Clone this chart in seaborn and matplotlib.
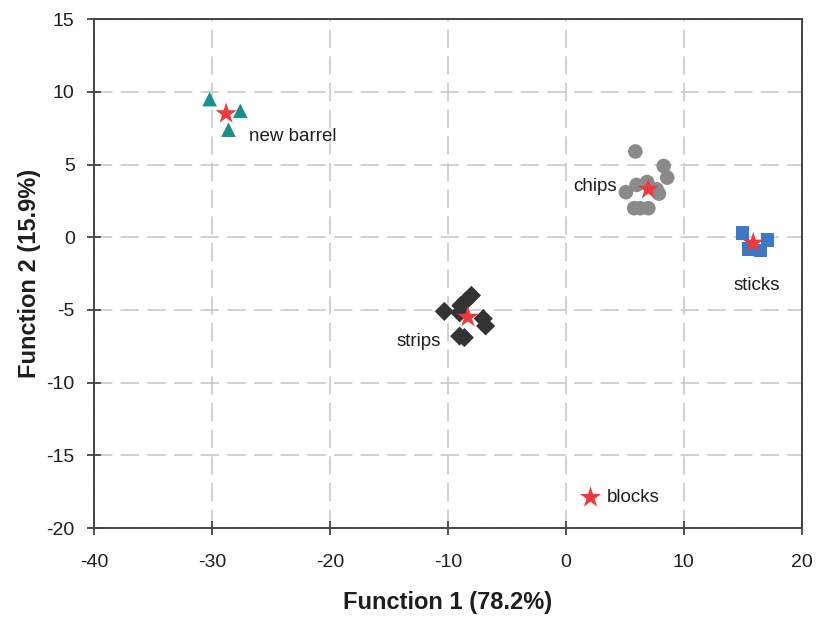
import numpy as np
import pandas as pd
import matplotlib
matplotlib.use('Agg')
import matplotlib.pyplot as plt
import seaborn as sns

# Dados (funções discriminantes)
barrel_x = [-30.2, -27.6, -28.6]
barrel_y = [9.5, 8.7, 7.4]
chips_x = [5.9, 8.3, 8.6, 5.1, 6.0, 6.9, 7.7, 7.9, 5.8, 6.3, 7.0]
chips_y = [5.9, 4.9, 4.1, 3.1, 3.6, 3.8, 3.3, 3.0, 2.0, 2.0, 2.0]
sticks_x = [15.0, 17.1, 15.5, 16.5]
sticks_y = [0.3, -0.2, -0.8, -0.9]
strips_x = [-10.3, -8.9, -8.5, -8.0, -9.0, -7.0, -6.8, -9.0, -8.6]
strips_y = [-5.1, -4.7, -4.4, -4.0, -5.2, -5.6, -6.1, -6.8, -6.9]

cent_names = ['new barrel', 'chips', 'sticks', 'strips', 'blocks']
cent_x = [-28.8, 7.0, 15.9, -8.3, 2.1]
cent_y = [8.5, 3.3, -0.4, -5.5, -17.9]

groups = ['new barrel', 'chips', 'sticks', 'strips']
Base = pd.concat([
    pd.DataFrame({'x': barrel_x, 'y': barrel_y, 'grupo': 'new barrel'}),
    pd.DataFrame({'x': chips_x, 'y': chips_y, 'grupo': 'chips'}),
    pd.DataFrame({'x': sticks_x, 'y': sticks_y, 'grupo': 'sticks'}),
    pd.DataFrame({'x': strips_x, 'y': strips_y, 'grupo': 'strips'}),
], ignore_index=True)
Centroides = pd.DataFrame({'x': cent_x, 'y': cent_y, 'grupo': cent_names})

sns.set_style('white')
plt.rcParams['font.family'] = ['Liberation Sans', 'DejaVu Sans']
plt.rcParams['axes.unicode_minus'] = False

cores = {'new barrel': '#1b8f8c', 'chips': '#8a8a8a', 'sticks': '#3d78c6', 'strips': '#333333'}
marcas = {'new barrel': '^', 'chips': 'o', 'sticks': 's', 'strips': 'D'}
tamanhos = {'new barrel': 110, 'chips': 110, 'sticks': 95, 'strips': 95}

fig = plt.figure(figsize=(8.18, 6.19), dpi=100)
ax = fig.add_axes([0.115, 0.147, 0.865, 0.822])

for g in groups:
    sns.scatterplot(data=Base[Base['grupo'] == g], x='x', y='y', color=cores[g],
                    marker=marcas[g], s=tamanhos[g], edgecolor='none', ax=ax, zorder=3)
sns.scatterplot(data=Centroides, x='x', y='y', color='#f0393c', marker='*', s=260,
                edgecolor='none', ax=ax, zorder=4)

# Rótulos dos grupos
cor_txt = '#1e1e1e'
ax.text(-26.9, 6.9, 'new barrel', fontsize=13.5, va='center', ha='left', color=cor_txt)
ax.text(4.3, 3.5, 'chips', fontsize=13.5, va='center', ha='right', color=cor_txt)
ax.text(16.2, -3.3, 'sticks', fontsize=13.5, va='center', ha='center', color=cor_txt)
ax.text(-10.6, -7.2, 'strips', fontsize=13.5, va='center', ha='right', color=cor_txt)
ax.text(3.5, -17.9, 'blocks', fontsize=13.5, va='center', ha='left', color=cor_txt)

ax.set_xlim(-40, 20)
ax.set_ylim(-20, 15)
ax.set_xticks(np.arange(-40, 21, 10))
ax.set_yticks(np.arange(-20, 16, 5))
ax.grid(True, color='#c9c9c9', linestyle=(0, (11, 5)), linewidth=1.2)
ax.set_axisbelow(True)
for sp in ax.spines.values():
    sp.set_color('#444444')
    sp.set_linewidth(1.4)
ax.tick_params(axis='both', direction='inout', length=10, width=1.3, color='#444444',
               labelsize=14, labelcolor=cor_txt, bottom=True, left=True)
ax.tick_params(axis='x', pad=14)
ax.tick_params(axis='y', pad=9)
ax.set_xlabel('Function 1 (78.2%)', fontsize=17, fontweight='bold', labelpad=14, color=cor_txt)
ax.set_ylabel('Function 2 (15.9%)', fontsize=17, fontweight='bold', labelpad=4, color=cor_txt)

plt.savefig('out.png', dpi=100)
